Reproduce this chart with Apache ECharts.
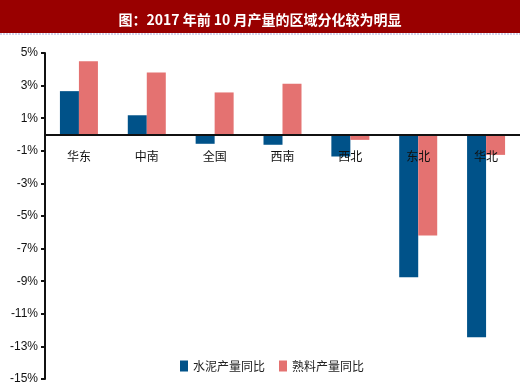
<!DOCTYPE html>
<html><head><meta charset="utf-8">
<script src="https://cdn.jsdelivr.net/npm/echarts@6/dist/echarts.min.js"></script>
<style>html,body{margin:0;padding:0;background:#fff}#c{width:520px;height:389px}</style>
</head><body><div id="c"></div>
<script>
const titleText = '图：2017 年前 10 月产量的区域分化较为明显';
const categories = ['华东', '中南', '全国', '西南', '西北', '东北', '华北'];
const seriesNames = ['水泥产量同比', '熟料产量同比'];
const cementValues = [2.66, 1.18, -0.57, -0.63, -1.35, -8.75, -12.44];
const clinkerValues = [4.5, 3.8, 2.58, 3.11, -0.33, -6.2, -1.25];
const yTicks = [-15, -13, -11, -9, -7, -5, -3, -1, 1, 3, 5];

const gridTop = 53, gridBottom = 10, H = 389;
const yMin = -15, yMax = 5;
const zeroOffset = -(H - gridTop - gridBottom) * (0 - yMin) / (yMax - yMin);

const chart = echarts.init(document.getElementById('c'), null, {renderer: 'canvas'});
const fontFam = '"Liberation Sans", Arial, "Noto Sans CJK SC", sans-serif';
chart.setOption({
  animation: false,
  backgroundColor: '#fff',
  graphic: [
    {type: 'rect', left: 0, top: 0, shape: {width: 520, height: 33}, style: {fill: '#990000'}, z: 0},
    {type: 'line', shape: {x1: 0, y1: 34, x2: 520, y2: 34}, style: {stroke: '#a8a8d8', lineWidth: 1, lineDash: [2, 1]}}
  ],
  title: {
    text: titleText, left: 'center', top: 8,
    textStyle: {color: '#fff', fontSize: 14, fontWeight: 'bold', fontFamily: '"Noto Sans CJK SC", sans-serif'}
  },
  legend: {
    left: 175, top: 355, itemWidth: 8, itemHeight: 11, itemGap: 14, icon: 'rect',
    textStyle: {fontSize: 12, color: '#222', fontFamily: '"Noto Sans CJK SC", sans-serif'},
    data: seriesNames
  },
  grid: {left: 45, right: 0, top: gridTop, bottom: gridBottom, containLabel: false, outerBoundsMode: 'none'},
  xAxis: {
    type: 'category', data: categories, z: 10, offset: zeroOffset,
    axisLine: {onZero: false, lineStyle: {color: '#111', width: 2}},
    axisTick: {inside: true, length: 5, lineStyle: {color: '#111', width: 2}},
    axisLabel: {margin: 16, fontSize: 12, color: '#111', fontFamily: '"Noto Sans CJK SC", sans-serif'},
    splitLine: {show: false}
  },
  yAxis: {
    type: 'value', min: yMin, max: yMax,
    axisLine: {show: true, lineStyle: {color: '#111', width: 2}},
    axisTick: {show: true, length: 4, lineStyle: {color: '#111', width: 2}, customValues: yTicks},
    axisLabel: {fontSize: 12, color: '#111', margin: 7, fontFamily: fontFam, formatter: v => v + '%', customValues: yTicks},
    splitLine: {show: false}
  },
  series: [
    {name: seriesNames[0], type: 'bar', data: cementValues, barWidth: 19, barGap: '0%', itemStyle: {color: '#005289'}},
    {name: seriesNames[1], type: 'bar', data: clinkerValues, barWidth: 19, barGap: '0%', itemStyle: {color: '#E47271'}}
  ]
});
</script></body></html>
